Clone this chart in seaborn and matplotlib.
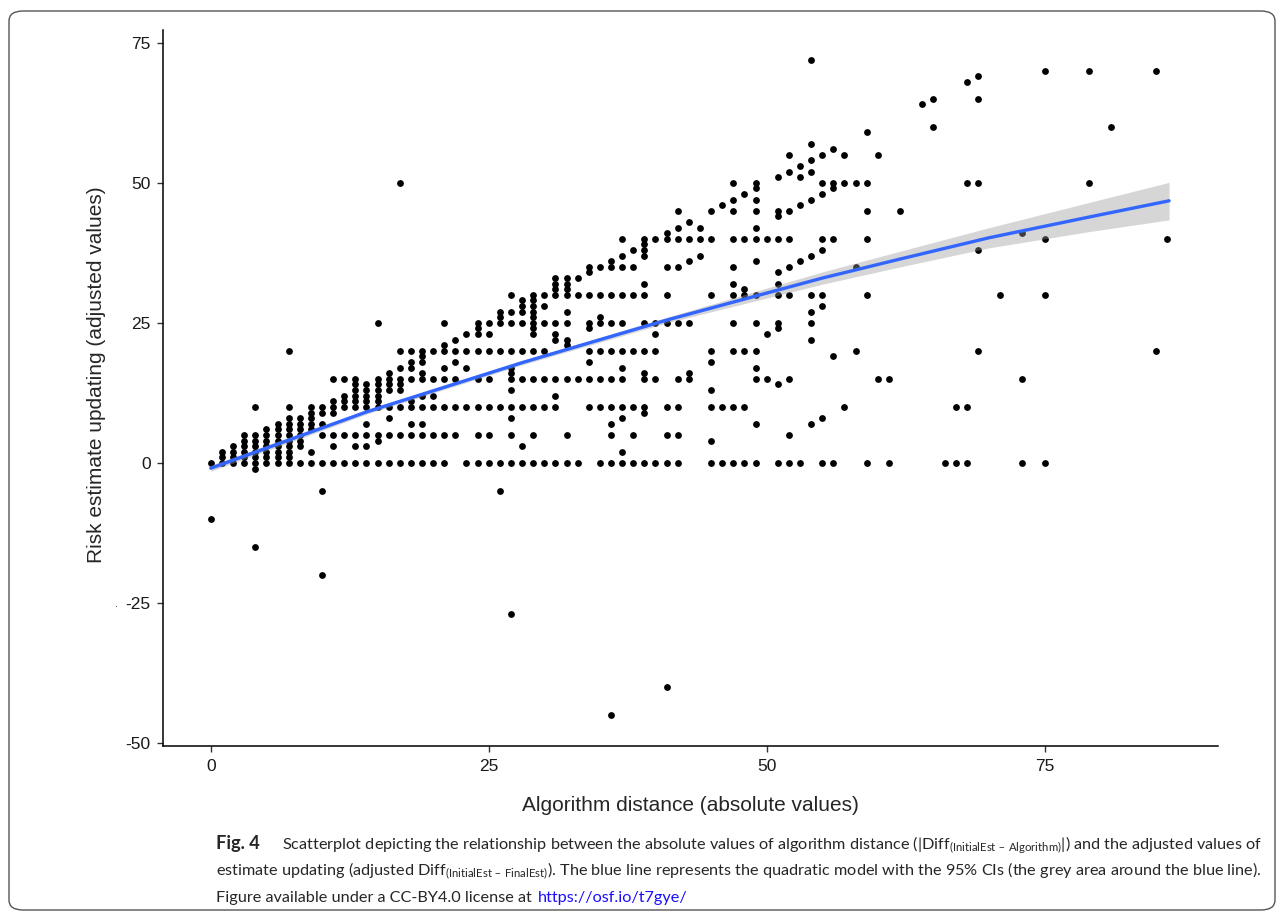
import numpy as np
import pandas as pd
import matplotlib
matplotlib.use('Agg')
import matplotlib.pyplot as plt
import seaborn as sns
from matplotlib.patches import FancyBboxPatch

# algorithm distance (x) -> adjusted estimate updating values (y)
cols_low = {
    0: [0, -10], 1: [0, 1, 2], 2: [0, 1, 2, 3], 3: [0, 1, 2, 3, 4, 5],
    4: [-15, -1, 0, 1, 2, 3, 4, 5, 10], 5: [0, 1, 2, 3, 4, 5, 6],
    6: [0, 1, 2, 3, 4, 5, 6, 7], 7: [0, 1, 2, 3, 4, 5, 6, 7, 8, 10, 20],
    8: [0, 3, 4, 5, 6, 7, 8], 9: [0, 2, 6, 7, 8, 9, 10],
    10: [-20, -5, 0, 5, 7, 9, 10], 11: [0, 3, 5, 9, 10, 11, 15],
    12: [0, 5, 10, 11, 12, 15], 13: [0, 3, 5, 10, 11, 12, 13, 14, 15],
    14: [0, 3, 5, 7, 10, 11, 12, 13, 14], 15: [0, 4, 5, 10, 11, 12, 13, 14, 15, 25],
    16: [0, 5, 8, 10, 13, 14, 15, 16], 17: [0, 5, 10, 13, 14, 15, 17, 20, 50],
    18: [0, 5, 7, 10, 11, 15, 17, 18, 20], 19: [0, 5, 7, 10, 12, 15, 16, 18, 19, 20],
    20: [0, 5, 10, 12, 15, 20],
}
cols_mid = {
    21: [0, 5, 10, 15, 17, 20, 21, 25], 22: [5, 10, 15, 18, 20, 22],
    23: [0, 10, 17, 20, 23], 24: [0, 5, 10, 15, 20, 23, 24, 25],
    25: [0, 5, 10, 15, 20, 23, 25], 26: [-5, 0, 10, 20, 25, 26, 27],
    27: [-27, 0, 5, 8, 10, 13, 15, 16, 17, 20, 25, 27, 30],
    28: [0, 3, 10, 15, 20, 25, 27, 28, 29],
    29: [0, 5, 10, 15, 20, 23, 24, 25, 26, 27, 28, 29, 30],
    30: [0, 10, 15, 20, 25, 28, 30],
    31: [0, 10, 12, 15, 22, 23, 25, 30, 31, 32, 33],
    32: [0, 5, 15, 21, 22, 25, 27, 30, 31, 32, 33],
    33: [0, 15, 30, 33], 34: [10, 15, 18, 20, 24, 25, 30, 34, 35],
    35: [0, 10, 15, 20, 25, 26, 30, 35],
    36: [-45, 0, 5, 7, 10, 15, 20, 25, 30, 35, 36],
    37: [0, 2, 8, 10, 15, 17, 20, 25, 30, 35, 37, 40],
    38: [0, 5, 10, 20, 30, 35, 38],
    39: [0, 9, 10, 15, 16, 20, 25, 30, 32, 37, 38, 39, 40],
    40: [0, 15, 20, 23, 25, 40], 41: [-40, 0, 5, 10, 25, 30, 35, 40, 41],
    42: [0, 5, 10, 15, 25, 35, 40, 42, 45], 43: [15, 16, 25, 36, 40, 43],
    44: [37, 40, 42], 45: [0, 4, 10, 13, 18, 20, 30, 40, 45],
}
cols_high = {
    46: [0, 10, 46], 47: [0, 10, 20, 25, 30, 32, 35, 40, 45, 47, 50],
    48: [0, 10, 20, 30, 31, 40, 48],
    49: [0, 7, 15, 17, 20, 25, 30, 36, 40, 42, 45, 47, 49, 50],
    50: [15, 23, 40], 51: [0, 14, 24, 25, 30, 32, 34, 40, 44, 45, 51],
    52: [0, 5, 15, 30, 35, 40, 45, 52, 55], 53: [0, 36, 46, 51, 53],
    54: [7, 22, 25, 27, 30, 37, 47, 52, 54, 57, 72],
    55: [0, 8, 28, 30, 38, 40, 48, 50, 55], 56: [0, 19, 40, 49, 50, 56],
    57: [10, 50, 55], 58: [20, 35, 50], 59: [0, 30, 40, 45, 50, 59],
    60: [15, 55], 61: [0, 15], 62: [45], 64: [64], 65: [60, 65], 66: [0],
    67: [0, 10], 68: [0, 10, 50, 68], 69: [20, 38, 50, 65, 69], 71: [30],
    73: [0, 15, 41], 75: [0, 30, 40, 70], 79: [50, 70], 81: [60],
    85: [20, 70], 86: [40],
}

# quadratic model curve and its 95% CI
fit_x = [0, 14, 28, 41, 55, 62, 70, 79, 86.2]
fit_y = [-0.95, 9.1, 17.9, 25.5, 33.0, 36.4, 40.2, 43.9, 46.8]
band_lo = [-1.5, 8.7, 17.5, 25.0, 31.9, 35.0, 38.4, 41.3, 43.4]
band_hi = [-0.4, 9.5, 18.3, 26.0, 34.1, 37.8, 42.0, 46.5, 50.1]

x_ticks = [0, 25, 50, 75]
y_ticks = [-50, -25, 0, 25, 50, 75]

rows = [(x, y) for cols in (cols_low, cols_mid, cols_high)
        for x, ys in cols.items() for y in ys]
df = pd.DataFrame(rows, columns=['distance', 'updating'])
fit = pd.DataFrame({'distance': fit_x, 'updating': fit_y})

sns.set_style('ticks')
plt.rcParams['font.family'] = ['Liberation Sans', 'DejaVu Sans']
plt.rcParams['axes.unicode_minus'] = False

fig = plt.figure(figsize=(12.81, 9.13), dpi=100)
ax = fig.add_axes([163 / 1281, 1 - 746 / 913, (1218 - 163) / 1281, (746 - 30) / 913])

sns.scatterplot(data=df, x='distance', y='updating', color='black', s=24,
                linewidth=0, ax=ax, zorder=2)
ax.fill_between(fit_x, band_lo, band_hi, color='#999999', alpha=0.4,
                linewidth=0, zorder=3)
sns.lineplot(data=fit, x='distance', y='updating', color='#3366FF', lw=2.4,
             ax=ax, zorder=4)

ax.set_xlim(-4.3, 90.6)
ax.set_ylim(-50.55, 77.3)
ax.set_xticks(x_ticks)
ax.set_yticks(y_ticks)
ax.tick_params(length=4, width=1, color='#333333', labelsize=12.5,
               labelcolor='#1a1a1a', pad=5)
for s in ['top', 'right']:
    ax.spines[s].set_visible(False)
for s in ['left', 'bottom']:
    ax.spines[s].set_linewidth(1.1)
    ax.spines[s].set_color('black')

ax.set_xlabel('Algorithm distance (absolute values)', fontsize=15)
ax.set_ylabel('Risk estimate updating (adjusted values)', fontsize=15)
ax.xaxis.set_label_coords(0.5, -(805 - 746) / 716)
ax.xaxis.label.set_va('center')
ax.yaxis.set_label_coords((97 - 163) / 1055, (746 - 375) / 716)
ax.yaxis.label.set_va('center')

fig.text(116 / 1281, 1 - 604 / 913, '.', fontsize=8, ha='center', va='center')

# caption
cap_font = ['Lato', 'DejaVu Sans']
fs = 12
t_fig = fig.text(216 / 1281, 1 - 849 / 913, 'Fig. 4', fontsize=fs, fontweight='bold',
                 family=cap_font, va='baseline')
t1 = fig.text(277 / 1281, 1 - 849 / 913,
              r'Scatterplot depicting the relationship between the absolute values of algorithm distance '
              r'(|Diff$_{\mathregular{(InitialEst\ –\ Algorithm)}}$|) and the adjusted values of',
              fontsize=fs, family=cap_font, va='baseline')
t2 = fig.text(216 / 1281, 1 - 876 / 913,
              r'estimate updating (adjusted Diff$_{\mathregular{(InitialEst\ –\ FinalEst)}}$). '
              r'The blue line represents the quadratic model with the 95% CIs (the grey area around the blue line).',
              fontsize=fs, family=cap_font, va='baseline')
t3 = fig.text(216 / 1281, 1 - 902 / 913, 'Figure available under a CC-BY4.0 license at ',
              fontsize=fs, family=cap_font, va='baseline')
t_link = fig.text(398 / 1281, 1 - 902 / 913, 'https://osf.io/t7gye/', color='#1a0dff',
                  fontsize=fs, family=cap_font, va='baseline')

# shrink caption so line 2 spans the same width as in the figure
fig.canvas.draw()
r = fig.canvas.get_renderer()
w2 = t2.get_window_extent(r).width
new_fs = fs * (1262 - 216) / w2
for t in (t_fig, t1, t2, t3, t_link):
    t.set_fontsize(new_fs)
t_fig.set_fontsize(new_fs * 1.12)
fig.canvas.draw()
w3 = t3.get_window_extent(r)
t_link.set_x((w3.x1 + 2) / 1281)
w1 = t1.get_window_extent(r).width
t1.set_x(max(277, 1262 - w1) / 1281)

border = FancyBboxPatch((9 / 1281, 3 / 913), (1275 - 9) / 1281, (910 - 11) / 913,
                        boxstyle='round,pad=0,rounding_size=0.011',
                        transform=fig.transFigure, fill=False,
                        edgecolor='#555555', linewidth=1)
fig.patches.append(border)

fig.savefig('out.png', dpi=100)
